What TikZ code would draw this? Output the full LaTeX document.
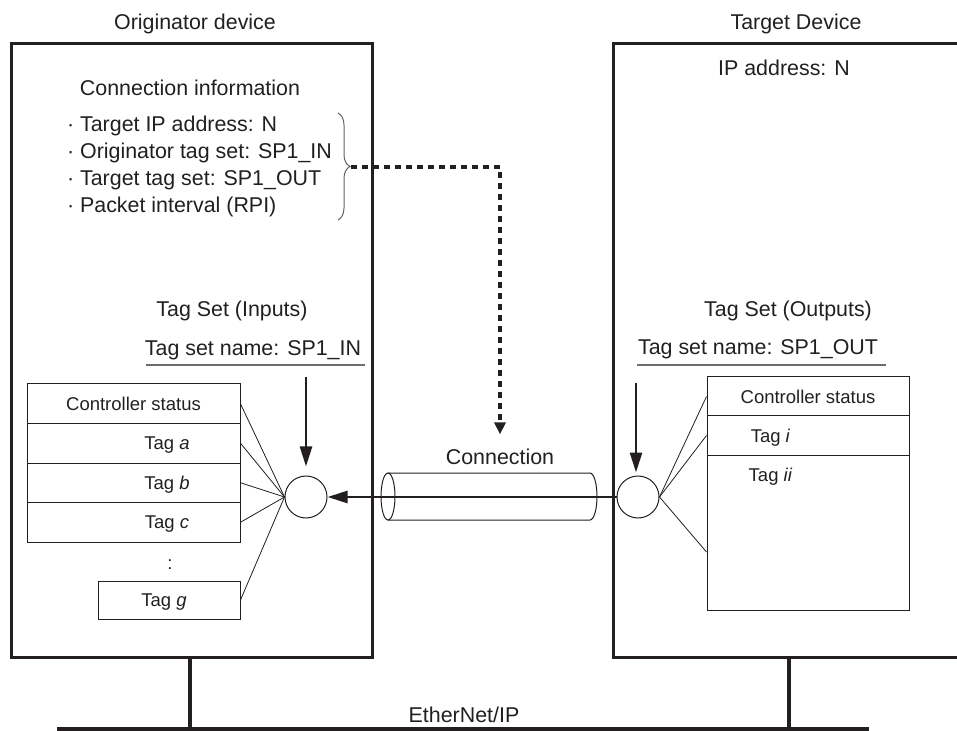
\documentclass[tikz,border=0pt]{standalone}
\usepackage{fontspec}
\setmainfont{Liberation Sans}
\usetikzlibrary{arrows.meta,decorations.pathreplacing}
\definecolor{ink}{RGB}{35,31,32}
\newcommand\labfont{\fontsize{10.7pt}{13pt}\selectfont}
\newcommand\cellfont{\fontsize{9.25pt}{11pt}\selectfont}
\tikzset{
  devbox/.style={draw=ink, line width=1.5pt, anchor=north west, minimum height=307pt},
  cell/.style={draw=ink, line width=0.5pt, minimum width=106.5pt, minimum height=19.75pt,
    font=\cellfont, text height=6.7pt, text depth=0pt},
  celltext/.style={font=\cellfont, inner sep=0pt, text height=6.7pt, text depth=0pt},
  port/.style={circle, draw=ink, line width=0.5pt, minimum size=21pt, inner sep=0pt},
  fan/.style={draw=ink, line width=0.4pt},
  flow/.style={draw=ink, line width=1.25pt, -{Triangle[length=10pt,width=6pt]}},
  linkdash/.style={draw=ink, line width=1.7pt, dash pattern=on 3pt off 2.5pt,
    -{Triangle[length=6pt,width=5.5pt]}},
  bracket/.style={draw=ink!70, line width=0.5pt, decorate, decoration={brace, amplitude=6pt}},
  rule/.style={draw=ink!65, line width=0.7pt},
  pipe/.style={draw=ink, line width=0.5pt},
  bus/.style={draw=ink, line width=2.2pt}
}
\begin{document}
\begin{tikzpicture}[x=0.5pt, y=-0.5pt, font=\labfont, text=ink]
  \useasboundingbox (0,0) rectangle (957,731);
  \node[devbox, minimum width=180.5pt] (orig) at (10,42) {};
  \node[devbox, minimum width=175pt] (target) at (612,42) {};
  \node[anchor=base] (origtitle) at (195,30) {Originator device};
  \node[anchor=base] (targettitle) at (796,30) {Target Device};
  \node[anchor=base] (ipaddr) at (784,76) {IP address: N};
  \node[anchor=base] (conninfo) at (190,96) {Connection information};
  \foreach \txt [count=\i] in {Target IP address: N, Originator tag set: SP1\_IN,
      Target tag set: SP1\_OUT, Packet interval (RPI)}
    \node[anchor=base west] (info\i) at (60,105+27*\i) {·\ \txt};
  \draw[bracket] (338,113) -- (338,220);
  \coordinate (bracetip) at (351,167);
  \node[anchor=base] (insettitle) at (232,317) {Tag Set (Inputs)};
  \node[anchor=base] (insetname) at (253,356) {Tag set name: SP1\_IN};
  \draw[rule] (146,365) -- (365,365);
  \node[anchor=base] (outsettitle) at (788,317) {Tag Set (Outputs)};
  \node[anchor=base] (outsetname) at (758,355) {Tag set name: SP1\_OUT};
  \draw[rule] (637,365) -- (886,365);
  \node[cell] (ctrl) at (133.5,403.75) {Controller status};
  \node[cell, label={[celltext, xshift=16.75pt]center:Tag \textit{a}}] (taga) at (133.5,443.25) {};
  \node[cell, label={[celltext, xshift=16.75pt]center:Tag \textit{b}}] (tagb) at (133.5,482.75) {};
  \node[cell, label={[celltext, xshift=16.75pt]center:Tag \textit{c}}] (tagc) at (133.5,522.25) {};
  \node[celltext] (more) at (170,563) {:};
  \node[cell, minimum width=71pt, minimum height=19pt,
    label={[celltext, xshift=-2.5pt]center:Tag \textit{g}}] (tagg) at (169,600) {};
  \node[cell, minimum width=101pt, minimum height=19.5pt] (rctrl) at (808,396.5) {Controller status};
  \node[cell, minimum width=101pt, minimum height=19.5pt,
    label={[celltext, xshift=-18.75pt]center:Tag \textit{i}}] (rtagi) at (808,435.5) {};
  \node[cell, minimum width=101pt, minimum height=77.5pt,
    label={[celltext, anchor=north, xshift=-18.75pt, yshift=-6.5pt]north:Tag \textit{ii}}] (rrest) at (808,532.5) {};
  \node[port] (inport) at (306,497) {};
  \node[port] (outport) at (638,497) {};
  \foreach \c in {ctrl, taga, tagb, tagc, tagg} \draw[fan] (inport.west) -- (\c.east);
  \draw[fan] (outport.east) -- (rctrl.west);
  \draw[fan] (outport.east) -- (rtagi.west);
  \draw[fan] (outport.east) -- ([yshift=-9.75pt]rrest.west);
  \draw[pipe] (388,496.5) ellipse [x radius=7, y radius=23.5];
  \draw[pipe] (388,473) -- (590,473) arc[start angle=-90, end angle=90, x radius=7, y radius=23.5] -- (388,520);
  \node[anchor=base] (connlbl) at (500,465) {Connection};
  \draw[flow] (outport) -- (inport);
  \coordinate (infeed) at (306,377);
  \coordinate (outfeed) at (636,383);
  \draw[flow, shorten >=4.5pt] (infeed) -- (infeed |- inport.north);
  \draw[flow, shorten >=1.5pt] (outfeed) -- (outfeed |- outport.north);
  \draw[linkdash, shorten >=4pt] (bracetip) -| (connlbl.north);
  \coordinate (origdrop) at (190,656);
  \coordinate (targetdrop) at (789,656);
  \coordinate (busW) at (57,729.5);
  \coordinate (busE) at (869,729.5);
  \draw[bus] (busW) -- (busE);
  \draw[bus] (origdrop) -- (origdrop |- busW);
  \draw[bus] (targetdrop) -- (targetdrop |- busW);
  \node[anchor=base] (netlbl) at (464,722) {EtherNet/IP};
\end{tikzpicture}
\end{document}
